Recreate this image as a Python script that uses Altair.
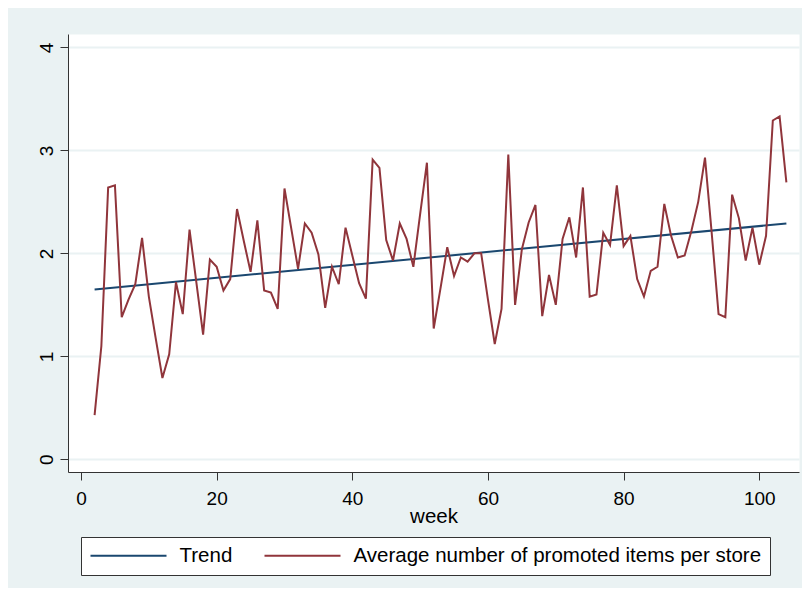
import altair as alt
import pandas as pd

# ---- data ----
weeks = list(range(2, 105))
avg_promoted = [
    0.43, 1.10, 2.64, 2.66, 1.38, 1.55, 1.70, 2.15, 1.58, 1.18,
    0.79, 1.02, 1.72, 1.41, 2.23, 1.72, 1.21, 1.94, 1.87, 1.64,
    1.75, 2.43, 2.12, 1.82, 2.32, 1.64, 1.62, 1.46, 2.63, 2.24,
    1.85, 2.29, 2.20, 1.99, 1.47, 1.87, 1.70, 2.25, 1.98, 1.71,
    1.56, 2.91, 2.83, 2.13, 1.93, 2.29, 2.14, 1.87, 2.38, 2.88,
    1.27, 1.66, 2.06, 1.78, 1.96, 1.92, 2.00, 2.00, 1.55, 1.12,
    1.46, 2.96, 1.50, 2.04, 2.30, 2.47, 1.39, 1.79, 1.50, 2.14,
    2.35, 1.96, 2.64, 1.58, 1.60, 2.20, 2.08, 2.66, 2.07, 2.17,
    1.75, 1.58, 1.83, 1.87, 2.48, 2.17, 1.96, 1.98, 2.22, 2.50,
    2.93, 2.19, 1.41, 1.38, 2.57, 2.34, 1.93, 2.25, 1.89, 2.17,
    3.29, 3.33, 2.69,
]
trend_weeks = [2, 104]
trend_values = [1.65, 2.29]

series_names = ["Trend", "Average number of promoted items per store"]
series_colors = ["#1A476F", "#90353B"]
x_ticks = [0, 20, 40, 60, 80, 100]
y_ticks = [0, 1, 2, 3, 4]

df_main = pd.DataFrame({"week": weeks, "value": avg_promoted, "series": series_names[1]})
df_trend = pd.DataFrame({"week": trend_weeks, "value": trend_values, "series": series_names[0]})

FONT = "Liberation Sans"
AX = "#333333"
BG = "#EAF2F3"

x_enc = alt.X(
    "week:Q",
    scale=alt.Scale(domain=[-1.92, 105.86], nice=False, zero=False),
    axis=alt.Axis(
        values=x_ticks, grid=False, tickSize=8, labelFontSize=19, labelPadding=9,
        title="week", titleFontSize=20.5, titleFontWeight="normal",
        titleBaseline="alphabetic", titleAlign="center", titleX=365.5, titleY=50,
    ),
)
y_enc = alt.Y(
    "value:Q",
    scale=alt.Scale(domain=[-0.123, 4.13], nice=False, zero=False),
    axis=alt.Axis(
        values=y_ticks, grid=True, gridColor=BG, gridWidth=2, tickSize=8,
        labelFontSize=19, labelAngle=270, labelAlign="center", labelBaseline="bottom",
        labelPadding=4, title=None,
    ),
)
legend = alt.Legend(
    orient="none", legendX=13, legendY=503, direction="horizontal", columns=2,
    title=None, symbolType="stroke", symbolSize=5776, symbolStrokeWidth=2,
    clipHeight=20, labelFontSize=20.5, labelOffset=12, columnPadding=31,
    padding=8.5, fillColor="white", strokeColor=AX, labelLimit=1000,
    symbolOffset=0, labelColor="black", labelFont=FONT,
)
color_enc = alt.Color(
    "series:N",
    scale=alt.Scale(domain=series_names, range=series_colors),
    legend=legend,
)

trend = alt.Chart(df_trend).mark_line(strokeWidth=2).encode(
    x=x_enc, y=y_enc, color=color_enc
)
main = alt.Chart(df_main).mark_line(strokeWidth=2).encode(
    x=x_enc, y=y_enc, color=color_enc
)

chart = (
    alt.layer(trend, main)
    .properties(
        width=731, height=438,
        autosize=alt.AutoSizeParams(type="none"),
        padding={"left": 60, "top": 26, "right": 3, "bottom": 116},
    )
    .configure(background=BG, font=FONT)
    .configure_view(fill="white", stroke="transparent")
    .configure_axis(
        domainColor=AX, tickColor=AX, domainWidth=1, tickWidth=1,
        labelColor="black", titleColor="black", labelFont=FONT, titleFont=FONT,
    )
)

chart.save("out.html", embed_options={"renderer": "svg", "actions": False})
